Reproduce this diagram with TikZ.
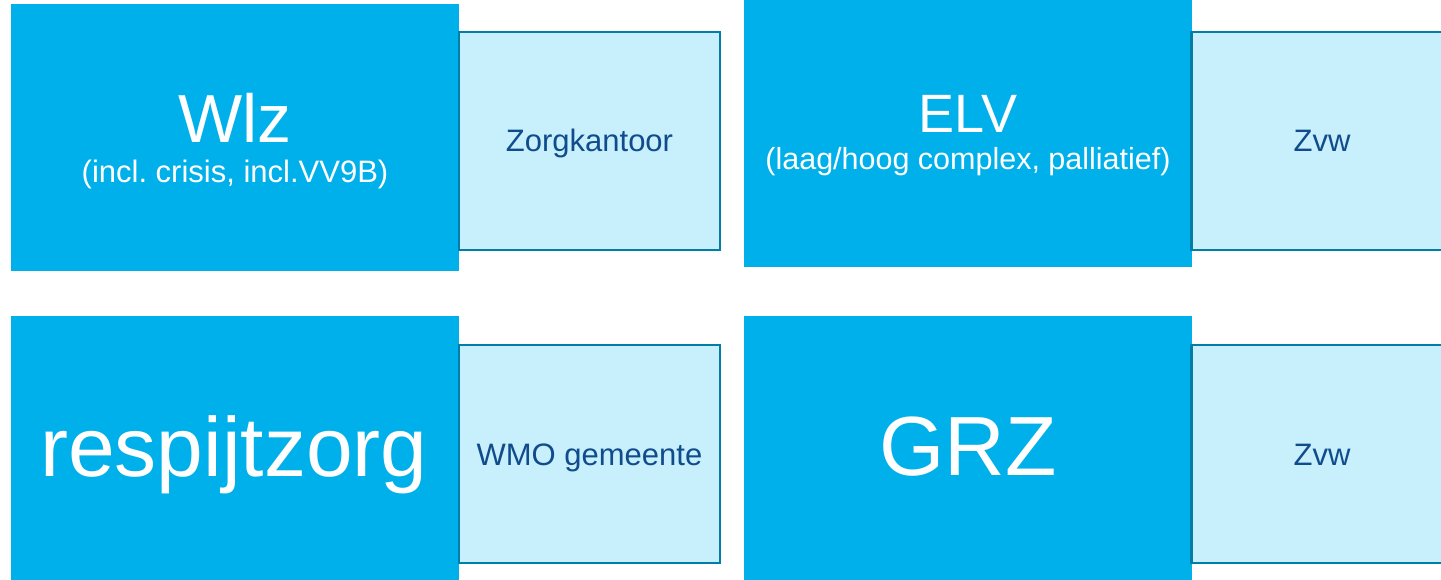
\documentclass[tikz,border=0pt]{standalone}
\usepackage{fontspec}
\setmainfont{Liberation Sans}
\usepackage{tikz}
\usetikzlibrary{positioning}
\usepackage{xcolor}
\frenchspacing

\definecolor{zorgblue}{RGB}{0,176,234}
\definecolor{zorglight}{RGB}{199,239,252}
\definecolor{zorgedge}{RGB}{0,126,168}
\definecolor{zorgtext}{RGB}{16,76,140}

\tikzset{
  bigbox/.style={rectangle, fill=zorgblue, minimum width=448pt, minimum height=267pt,
    inner sep=0pt, outer sep=0pt},
  payerbox/.style={rectangle, fill=zorglight, draw=zorgedge, line width=2.5pt,
    minimum width=261pt, minimum height=218pt, inner sep=0pt, outer sep=0pt,
    text=zorgtext, font=\fontsize{31}{31}\selectfont, text height=22pt, text depth=0pt},
  titletext/.style={text=white, anchor=base, inner sep=0pt},
  subtext/.style={text=white, anchor=base, inner sep=0pt, font=\fontsize{31}{31}\selectfont}
}

\begin{document}
\begin{tikzpicture}[x=1pt,y=-1pt]

 % page size of the reference
 \clip (0,0) rectangle (1441,580);

 % the four care forms (dark blue blocks)
 \node[bigbox] (Wlz) at (235,137.5) {};
 \node[bigbox] (ELV) at (967.5,133.5) {};
 \node[bigbox] (Respijt) at (235,449.5) {};
 \node[bigbox] (GRZ) at (967.5,449.5) {};

 % who pays: light blocks glued to the right side
 \node[payerbox, right=0pt of Wlz, yshift=-3.5pt] (Zorgkantoor) {Zorgkantoor};
 \node[payerbox, right=0pt of ELV, yshift=-7.5pt] (ZvwTop) {Zvw};
 \node[payerbox, right=0pt of Respijt, yshift=-4.5pt] (WMO) {WMO gemeente};
 \node[payerbox, right=0pt of GRZ, yshift=-4.5pt] (ZvwBottom) {Zvw};

 % titles and subtitles
 \node[titletext, font=\fontsize{68}{68}\selectfont] (WlzTitle) at (235,143) {Wlz};
 \node[subtext] (WlzSub) at (235,183) {(incl. crisis, incl.VV9B)};

 \node[titletext, font=\fontsize{54}{54}\selectfont] (ELVTitle) at (968,133) {ELV};
 \node[subtext, font=\fontsize{30.5}{30.5}\selectfont] (ELVSub) at (968,170) {(laag/hoog complex, palliatief)};

 \node[titletext, font=\fontsize{84}{84}\selectfont] (RespijtTitle) at (234,476) {respijtzorg};
 \node[titletext, font=\fontsize{84}{84}\selectfont] (GRZTitle) at (968,475) {GRZ};

\end{tikzpicture}
\end{document}
